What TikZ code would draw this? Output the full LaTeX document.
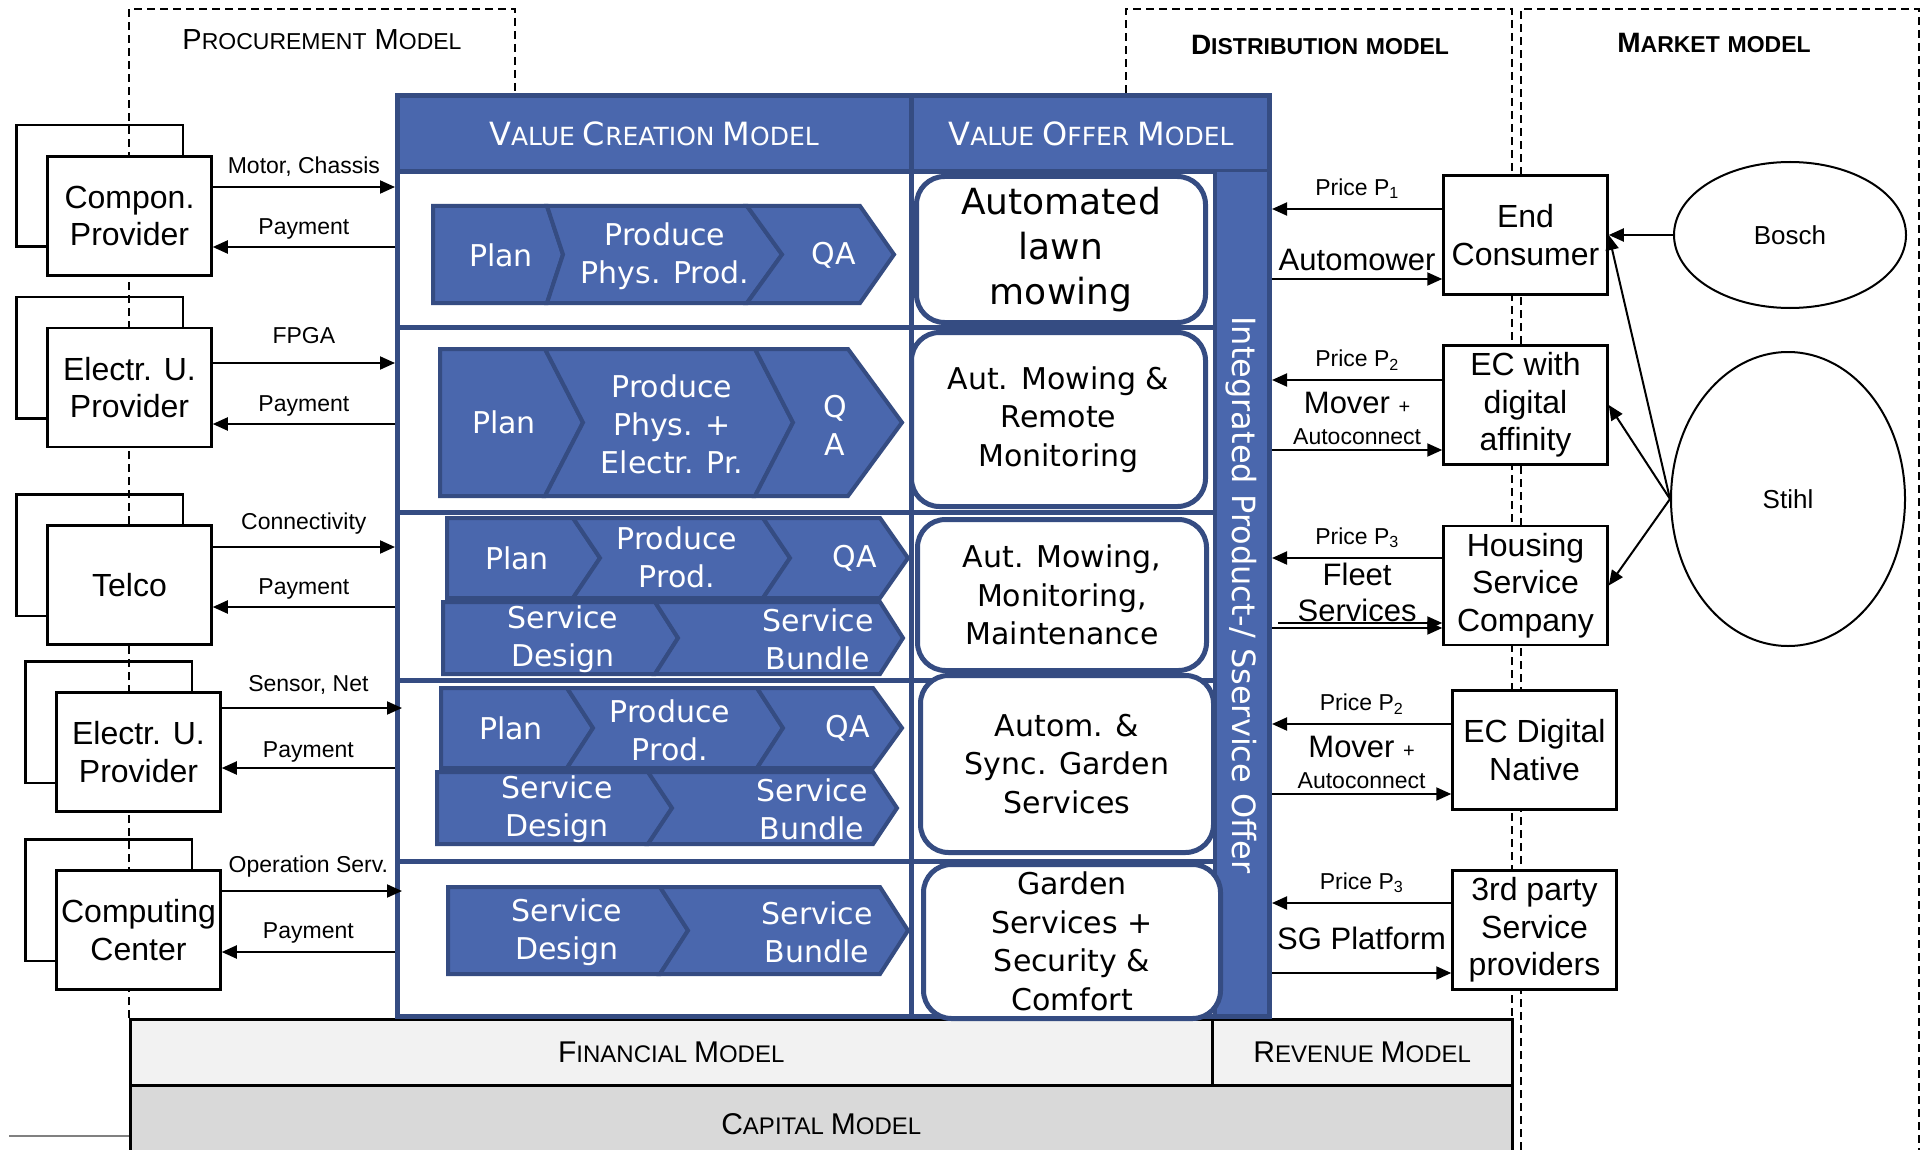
\documentclass[tikz,border=0pt]{standalone}
\usepackage{fontspec}
\setmainfont{Liberation Sans}
\newfontfamily\offerfont{DejaVu Sans}
\usepackage{tikz}
\usetikzlibrary{calc,positioning,arrows.meta,shapes.geometric}

\definecolor{vcblue}{HTML}{4A67AD}
\definecolor{vcdark}{HTML}{354C82}
\definecolor{finfill}{HTML}{F2F2F2}
\definecolor{capfill}{HTML}{D9D9D9}

\pgfdeclarelayer{background}
\pgfsetlayers{background,main}

\newcommand{\px}[2]{\fontsize{#1}{#2}\selectfont}
\newcommand{\capword}[4]{{\px{#1}{#1}#3}{\px{#2}{#2}#4}}
\newcommand{\chevseg}[6]{%
  \path[chev] (#1,#5) -- (#3,#5) -- ({#3+#4},{(#5+#6)/2}) -- (#3,#6) -- (#1,#6) -- ({#1+#2},{(#5+#6)/2}) -- cycle;}

\tikzstyle{block} = [rectangle, draw, line width=2.5pt, fill=white, align=center, minimum width=164pt, minimum height=119pt, inner sep=0pt, font=\px{32}{37.5}]
\tikzstyle{backbox} = [draw, line width=2.5pt]
\tikzstyle{line} = [draw, line width=2pt, -{Triangle[length=15pt,width=13pt]}]
\tikzstyle{lbl} = [inner sep=0pt, font=\px{23}{26}]
\tikzstyle{biglbl} = [inner sep=0pt, align=center, font=\px{31}{36}]
\tikzstyle{region} = [draw, line width=2pt, dash pattern=on 8pt off 5pt]
\tikzstyle{title} = [inner sep=0pt, font=\px{29}{29}]
\tikzstyle{offer} = [rectangle, rounded corners=28pt, draw=vcdark, line width=5pt, fill=white, align=center, inner sep=0pt, font=\offerfont\px{30}{38.5}]
\tikzstyle{chev} = [draw=vcdark, line width=4pt, fill=vcblue]
\tikzstyle{chevtext} = [text=white, align=center, inner sep=0pt, font=\offerfont\px{30}{38}]
\tikzstyle{headtext} = [text=white, inner sep=0pt, font=\offerfont\px{25}{25}]
\tikzstyle{market} = [ellipse, draw, line width=2pt, inner sep=0pt, font=\px{26}{30}]
\tikzstyle{layerbox} = [rectangle, draw, line width=2.5pt, anchor=north west, inner sep=0pt, font=\px{25}{25}]

\begin{document}
\begin{tikzpicture}[x=1pt, y=-1pt]
    \useasboundingbox (0,0) rectangle (1924,1150);
    \clip (0,0) rectangle (1924,1150);
    \begin{pgfonlayer}{background}
        \fill[white] (0,0) rectangle (1924,1150);
    \end{pgfonlayer}

    \draw[region] (129,1018) -- (129,9) -- (515,9) -- (515,93);
    \draw[region] (1126,93) -- (1126,9) -- (1512,9) -- (1512,1150);
    \draw[region] (1521,1150) -- (1521,9) -- (1919,9) -- (1919,1150);
    \draw[gray, line width=1.2pt] (9,1136) -- (129,1136);

    \node[title] (procurement) at (322,40) {\capword{29}{23}{P}{ROCUREMENT} \capword{29}{23}{M}{ODEL}};
    \node[title, font=\bfseries\px{28}{28}] (distribution) at (1320,45) {\capword{28}{23}{D}{ISTRIBUTION} \capword{28}{23}{}{MODEL}};
    \node[title, font=\bfseries\px{28}{28}] (markettitle) at (1714,43) {\capword{28}{23}{M}{ARKET} \capword{28}{23}{}{MODEL}};

    \node[layerbox, fill=capfill, minimum width=1382pt, minimum height=78pt] (capital) at (129,1084) {\capword{30}{24}{C}{APITAL} \capword{30}{24}{M}{ODEL}};
    \node[layerbox, fill=finfill, minimum width=1082pt, minimum height=66pt] (financial) at (129,1018) {\capword{30}{24}{F}{INANCIAL} \capword{30}{24}{M}{ODEL}};
    \node[layerbox, fill=finfill, minimum width=300pt, minimum height=66pt] (revenue) at (1211,1018) {\capword{30}{24}{R}{EVENUE} \capword{30}{24}{M}{ODEL}};

    \node[rectangle, draw=vcdark, line width=5pt, fill=white, anchor=north west, minimum width=872pt, minimum height=921pt, inner sep=0pt] (vcm) at (395,93) {};
    \fill[vcblue] (400,98) rectangle (1267,172);
    \draw[vcdark, line width=5pt] (397.5,172) -- (1269.5,172);
    \draw[vcdark, line width=5pt] (911,95.5) -- (911,1016.5);
    \foreach \y in {327,512,680,861}
        \draw[vcdark, line width=5pt] (397.5,\y) -- (1215,\y);
    \fill[vcblue] (1215,172) rectangle (1267,1014);
    \draw[vcdark, line width=4pt] (1215,172) -- (1215,1016.5);
    \node[headtext] (vcmhead) at (654,134) {\capword{32}{25}{V}{ALUE} \capword{32}{25}{C}{REATION} \capword{32}{25}{M}{ODEL}};
    \node[headtext] (vomhead) at (1091,134) {\capword{32}{25}{V}{ALUE} \capword{32}{25}{O}{FFER} \capword{32}{25}{M}{ODEL}};
    \node[text=white, rotate=-90, inner sep=0pt, font=\offerfont\px{32}{32}] (integrated) at (1241,595) {Integrated Product-/ Sservice Offer};

    \chevseg{433}{0}{547}{16}{206}{303}
    \chevseg{547}{16}{747}{35}{206}{303}
    \chevseg{747}{35}{860}{34}{206}{303}
    \chevseg{440}{0}{545}{38}{349}{496}
    \chevseg{545}{38}{755}{38}{349}{496}
    \chevseg{755}{38}{848}{54}{349}{496}
    \chevseg{447}{0}{573}{27}{518}{598}
    \chevseg{573}{27}{763}{27}{518}{598}
    \chevseg{763}{27}{880}{28}{518}{598}
    \chevseg{443}{0}{655}{23}{602}{674}
    \chevseg{655}{23}{880}{23}{602}{674}
    \chevseg{441}{0}{567}{26}{688}{768}
    \chevseg{567}{26}{757}{26}{688}{768}
    \chevseg{757}{26}{873}{29}{688}{768}
    \chevseg{437}{0}{648}{24}{772}{844}
    \chevseg{648}{24}{873}{24}{772}{844}
    \chevseg{448}{0}{660}{28}{887}{974}
    \chevseg{660}{28}{880}{28}{887}{974}

    \node[chevtext] (plan1) at (501,255) {Plan};
    \node[chevtext] (prod1) at (665,256) {Produce\\Phys. Prod.};
    \node[chevtext] (qa1) at (834,255) {QA};
    \node[chevtext] (plan2) at (504,422) {Plan};
    \node[chevtext] (prod2) at (672,424) {Produce\\Phys. +\\Electr. Pr.};
    \node[chevtext] (qa2) at (835,425) {Q\\A};
    \node[chevtext] (plan3) at (517,558) {Plan};
    \node[chevtext] (prod3) at (677,557) {Produce\\Prod.};
    \node[chevtext] (qa3) at (855,558) {QA};
    \node[chevtext] (design3) at (563,639) {Service\\Design};
    \node[chevtext] (bundle3) at (818,639) {Service\\Bundle};
    \node[chevtext] (plan4) at (511,728) {Plan};
    \node[chevtext] (prod4) at (670,730) {Produce\\Prod.};
    \node[chevtext] (qa4) at (848,728) {QA};
    \node[chevtext] (design4) at (557,809) {Service\\Design};
    \node[chevtext] (bundle4) at (812,809) {Service\\Bundle};
    \node[chevtext] (design5) at (567,932) {Service\\Design};
    \node[chevtext] (bundle5) at (817,932) {Service\\Bundle};

    \node[offer, minimum width=289pt, minimum height=146pt, font=\offerfont\px{36}{45}] (offer1) at (1061,249.5) {Automated\\lawn\\mowing};
    \node[offer, minimum width=294pt, minimum height=174pt] (offer2) at (1058.5,419.5) {Aut. Mowing \&\\Remote\\Monitoring};
    \node[offer, minimum width=289pt, minimum height=151pt] (offer3) at (1062,595) {Aut. Mowing,\\Monitoring,\\Maintenance};
    \node[offer, minimum width=293pt, minimum height=177pt] (offer4) at (1067,764) {Autom. \&\\Sync. Garden\\Services};
    \node[offer, minimum width=297pt, minimum height=154pt] (offer5) at (1072,941.5) {Garden\\Services +\\Security \&\\Comfort};

    \node[block] (prov1) at (129.5,216) {Compon.\\Provider};
    \node[block] (prov2) at (129.5,387.5) {Electr. U.\\Provider};
    \node[block] (prov3) at (129.5,585) {Telco};
    \node[block] (prov4) at (138.5,752) {Electr. U.\\Provider};
    \node[block] (prov5) at (138.5,930) {Computing\\Center};
    \begin{pgfonlayer}{background}
        \foreach \p in {prov1,prov2,prov3,prov4,prov5}
            \draw[backbox] ($(\p.south west)+(-30,-30)$) rectangle ($(\p.north east)+(-30,-30)$);
    \end{pgfonlayer}

    \path [line] (prov1.east |- 0,187) -- node[lbl, above=10pt] (motor) {Motor, Chassis} (vcm.west |- 0,187);
    \path [line] (vcm.west |- 0,247) -- node[lbl, above=7pt] (pay1) {Payment} (prov1.east |- 0,247);
    \path [line] (prov2.east |- 0,363) -- node[lbl, above=18pt] (fpga) {FPGA} (vcm.west |- 0,363);
    \path [line] (vcm.west |- 0,424) -- node[lbl, above=7pt] (pay2) {Payment} (prov2.east |- 0,424);
    \path [line] (prov3.east |- 0,547) -- node[lbl, above=12pt] (conn) {Connectivity} (vcm.west |- 0,547);
    \path [line] (vcm.west |- 0,607) -- node[lbl, above=7pt] (pay3) {Payment} (prov3.east |- 0,607);
    \path [line, shorten >=-7pt] (prov4.east |- 0,708) -- node[lbl, above=13pt] (sensor) {Sensor, Net} (vcm.west |- 0,708);
    \path [line] (vcm.west |- 0,768) -- node[lbl, above=5pt] (pay4) {Payment} (prov4.east |- 0,768);
    \path [line, shorten >=-7pt] (prov5.east |- 0,891) -- node[lbl, above=13pt] (operation) {Operation Serv.} (vcm.west |- 0,891);
    \path [line] (vcm.west |- 0,952) -- node[lbl, above=8pt] (pay5) {Payment} (prov5.east |- 0,952);

    \node[block] (cust1) at (1525.5,235) {End\\Consumer};
    \node[block] (cust2) at (1525.5,405) {EC with\\digital\\affinity};
    \node[block] (cust3) at (1525.5,585.5) {Housing\\Service\\Company};
    \node[block] (cust4) at (1534.5,750) {EC Digital\\Native};
    \node[block] (cust5) at (1534.5,930) {3rd party\\Service\\providers};

    \path [line] (cust1.west |- 0,209) -- node[lbl, above=9pt] (price1) {Price P\textsubscript{1}} (vcm.east |- 0,209);
    \path [line] (vcm.east |- 0,279) -- node[biglbl, above=7pt] (mower) {Automower} (cust1.west |- 0,279);
    \path [line] (cust2.west |- 0,380) -- node[lbl, above=9pt] (price2) {Price P\textsubscript{2}} (vcm.east |- 0,380);
    \path [line] (vcm.east |- 0,450) -- node[lbl, above=4pt] (conn2) {Autoconnect} (cust2.west |- 0,450);
    \node[biglbl, above=14pt of conn2] (mover2) {Mover {\px{20}{20}+}};
    \path [line] (cust3.west |- 0,558) -- node[lbl, above=9pt] (price3) {Price P\textsubscript{3}} (vcm.east |- 0,558);
    \path [line] (vcm.east |- 0,628) -- node[biglbl, above=5pt] (fleet) {Fleet\\Services} (cust3.west |- 0,628);
    \path [line] ($(vcm.east |- 0,623)+(6,0)$) -- (cust3.west |- 0,623);
    \path [line] (cust4.west |- 0,724) -- node[lbl, above=9pt] (price4) {Price P\textsubscript{2}} (vcm.east |- 0,724);
    \path [line] (vcm.east |- 0,794) -- node[lbl, above=4pt] (conn4) {Autoconnect} (cust4.west |- 0,794);
    \node[biglbl, above=14pt of conn4] (mover4) {Mover {\px{20}{20}+}};
    \path [line] (cust5.west |- 0,903) -- node[lbl, above=9pt] (price5) {Price P\textsubscript{3}} (vcm.east |- 0,903);
    \path [line] (vcm.east |- 0,973) -- node[biglbl, above=22pt] (sgp) {SG Platform} (cust5.west |- 0,973);

    \node[market, minimum width=232pt, minimum height=146pt] (bosch) at (1790,235) {Bosch};
    \node[market, minimum width=234pt, minimum height=294pt] (stihl) at (1788,499) {Stihl};
    \path [line] (bosch.west) -- (cust1.east);
    \path [line] (stihl.west) -- (cust1.east);
    \path [line] (stihl.west) -- (cust2.east);
    \path [line] (stihl.west) -- (cust3.east);
\end{tikzpicture}
\end{document}
